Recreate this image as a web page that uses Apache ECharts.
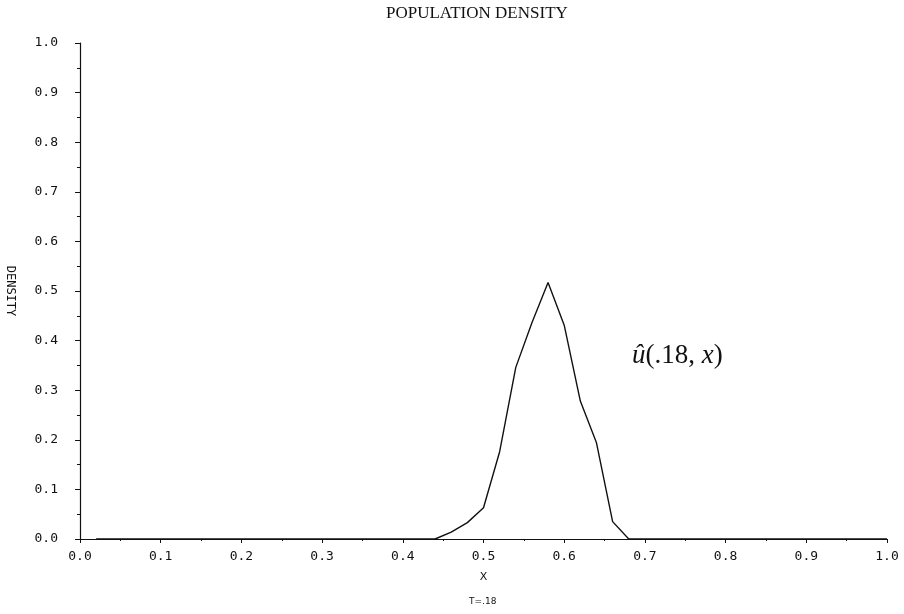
<!DOCTYPE html>
<html>
<head>
<meta charset="utf-8">
<title>Population Density</title>
<script src="https://cdn.jsdelivr.net/npm/echarts@6/dist/echarts.min.js"></script>
<style>
  html, body { margin: 0; padding: 0; background: #fff; }
  #chart { width: 904px; height: 614px; }
</style>
</head>
<body>
<div id="chart"></div>
<script>
// Spatial grid of the solution at time T = .18
const xGrid = [
  0.02, 0.04, 0.06, 0.08, 0.10, 0.12, 0.14, 0.16, 0.18, 0.20,
  0.22, 0.24, 0.26, 0.28, 0.30, 0.32, 0.34, 0.36, 0.38, 0.40,
  0.42, 0.44, 0.46, 0.48, 0.50, 0.52, 0.54, 0.56, 0.58, 0.60,
  0.62, 0.64, 0.66, 0.68, 0.70, 0.72, 0.74, 0.76, 0.78, 0.80,
  0.82, 0.84, 0.86, 0.88, 0.90, 0.92, 0.94, 0.96, 0.98, 1.00
];
// Population density u(.18, x) at each grid point
const density = [
  0, 0, 0, 0, 0, 0, 0, 0, 0, 0,
  0, 0, 0, 0, 0, 0, 0, 0, 0, 0,
  0, 0, 0.014, 0.033, 0.063, 0.176, 0.346, 0.436, 0.517, 0.431,
  0.278, 0.194, 0.035, 0, 0, 0, 0, 0, 0, 0,
  0, 0, 0, 0, 0, 0, 0, 0, 0, 0
];
const titleText = 'POPULATION DENSITY';
const xName = 'X';
const yName = 'DENSITY';
const timeLabel = 'T=.18';

const chart = echarts.init(document.getElementById('chart'));
const labelFont = { fontFamily: 'DejaVu Sans Mono', fontSize: 13, color: '#111' };
const axisLine = { show: true, lineStyle: { color: '#111', width: 1.2 } };

chart.setOption({
  animation: false,
  backgroundColor: '#fff',
  title: {
    text: titleText,
    left: 381, top: 0,
    textStyle: { fontFamily: 'Liberation Serif', fontSize: 17, fontWeight: 'normal', color: '#111' }
  },
  grid: { left: 80, right: 17, top: 43, bottom: 75, outerBoundsMode: 'none', containLabel: false },
  xAxis: {
    type: 'value', min: 0, max: 1, interval: 0.1,
    offset: 3,
    name: xName, nameLocation: 'middle', nameGap: 30,
    nameTextStyle: { fontFamily: 'DejaVu Sans', fontSize: 11, color: '#111' },
    axisLine: axisLine,
    axisTick: { show: true, inside: false, length: 4, lineStyle: { color: '#111' } },
    minorTick: { show: true, splitNumber: 2, length: 2, lineStyle: { color: '#111' } },
    splitLine: { show: false },
    axisLabel: Object.assign({ margin: 8, formatter: v => v.toFixed(1) }, labelFont)
  },
  yAxis: {
    type: 'value', min: 0, max: 1, interval: 0.1,
    name: yName, nameLocation: 'middle', nameGap: 64, nameRotate: -90,
    nameTextStyle: { fontFamily: 'DejaVu Sans Mono', fontSize: 12, color: '#111' },
    axisLine: axisLine,
    axisTick: { show: true, inside: false, length: 5, lineStyle: { color: '#111' } },
    minorTick: { show: true, splitNumber: 2, length: 3, lineStyle: { color: '#111' } },
    splitLine: { show: false },
    axisLabel: Object.assign({ margin: 22, formatter: v => v.toFixed(1) }, labelFont)
  },
  series: [{
    type: 'line',
    data: xGrid.map((x, i) => [x, density[i]]),
    showSymbol: false,
    lineStyle: { color: '#111', width: 1.4 },
    z: 3
  }],
  graphic: [
    {
      type: 'text', left: 632, top: 342,
      style: {
        text: '{i|û}{r|(.18, }{i|x}{r|)}',
        rich: {
          i: { fontFamily: 'Liberation Serif', fontStyle: 'italic', fontSize: 27, fill: '#111' },
          r: { fontFamily: 'Liberation Serif', fontSize: 27, fill: '#111' }
        }
      }
    },
    {
      type: 'text', left: 469, top: 597,
      style: { text: timeLabel, fontFamily: 'DejaVu Sans', fontSize: 9, fill: '#111' }
    }
  ]
});
</script>
</body>
</html>
